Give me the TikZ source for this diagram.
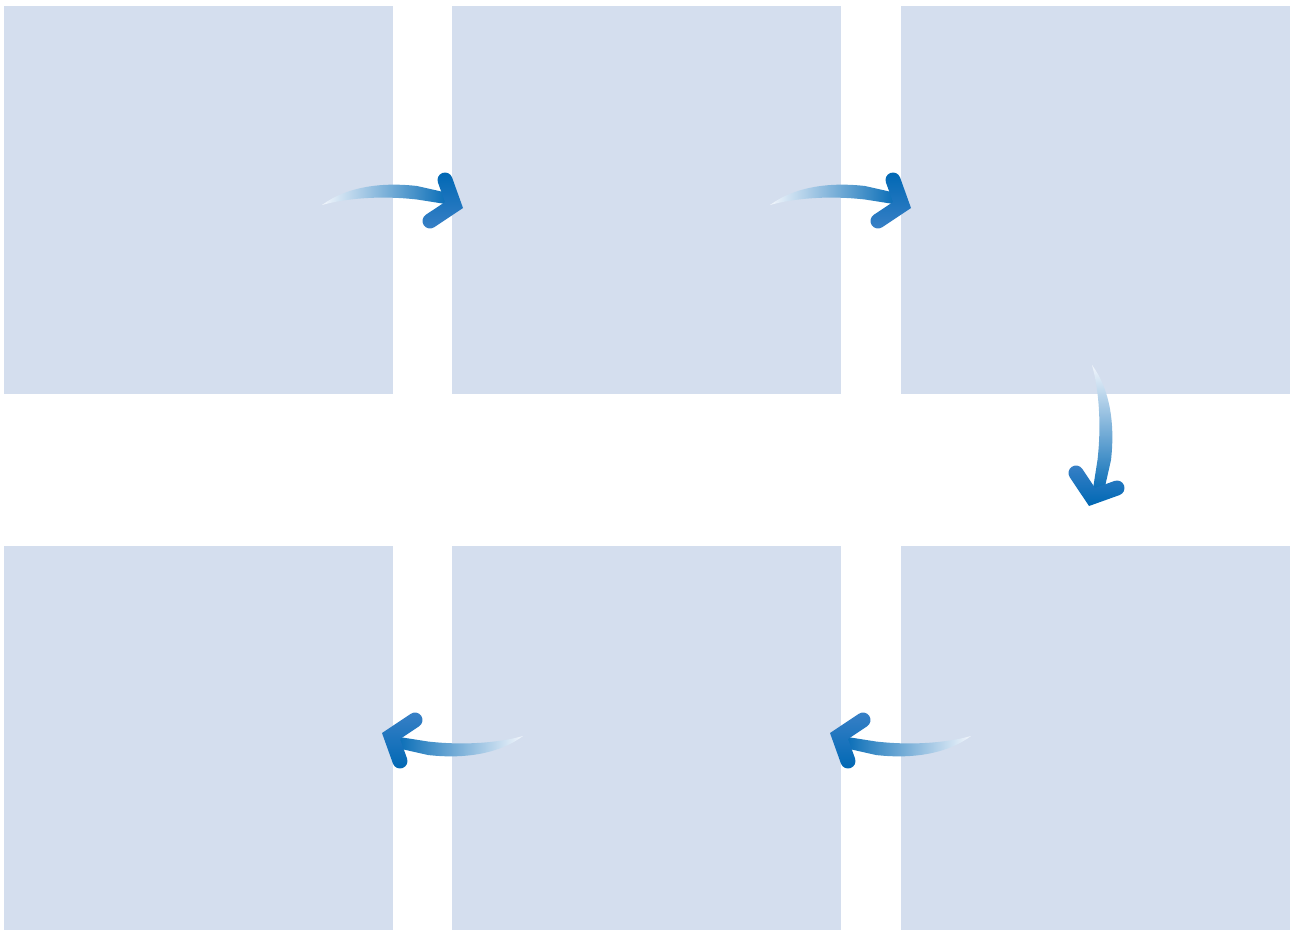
\documentclass[tikz,border=0pt]{standalone}
\usetikzlibrary{calc}
\definecolor{boxblue}{RGB}{212,222,238}
\definecolor{darkblue}{RGB}{0,104,180}
\definecolor{midblue}{RGB}{116,158,211}
\definecolor{headblue}{RGB}{56,128,198}
\definecolor{tailwhite}{RGB}{242,246,252}
\tikzset{
  box/.style={fill=boxblue, draw=none, minimum width=389pt, minimum height=388pt, inner sep=0pt, outer sep=0pt},
  lowbox/.style={box, minimum height=384pt},
  bodyshade/.style={left color=tailwhite, middle color=midblue, right color=darkblue},
  headshade/.style={top color=darkblue, bottom color=headblue},
  toright/.style={},
  todown/.style={rotate=-90,
    bodyshade/.style={top color=tailwhite, middle color=midblue, bottom color=darkblue},
    headshade/.style={top color=headblue, bottom color=darkblue}},
  toleft/.style={rotate=180,
    bodyshade/.style={right color=tailwhite, middle color=midblue, left color=darkblue},
    headshade/.style={top color=headblue, bottom color=darkblue}},
  flowarrow/.pic={
    \shade[bodyshade]
      (0,0) .. controls (25,-18.5) and (60,-23) .. (95,-19) -- (126,-12) -- (130,0)
      -- (95,-5.5) .. controls (60,-9.5) and (25,-7) .. (0,0) -- cycle;
    \shade[headshade]
      (141.0,3.0) -- (130.05,-27.54) .. controls (128.65,-31.43) and (124.35,-33.45) .. (120.46,-32.05)
      .. controls (116.57,-30.65) and (114.55,-26.35) .. (115.95,-22.46) -- (123.0,-3.0)
      -- (103.84,9.76) .. controls (100.40,12.06) and (99.46,16.72) .. (101.76,20.16)
      .. controls (104.06,23.60) and (108.72,24.54) .. (112.16,22.24) -- cycle;
  }
}
\begin{document}
\begin{tikzpicture}[x=1pt,y=-1pt]
\useasboundingbox (0,0) rectangle (1291,930);
\node[box] (b1) at (198.5,200) {};
\node[box] (b2) at (646.5,200) {};
\node[box] (b3) at (1095.5,200) {};
\node[lowbox] (b4) at (198.5,738) {};
\node[lowbox] (b5) at (646.5,738) {};
\node[lowbox] (b6) at (1095.5,738) {};
\pic[toright] at ($(b1.east)+(-71,5)$) {flowarrow};
\pic[toright] at ($(b2.east)+(-71,5)$) {flowarrow};
\pic[todown] at ($(b3.south)+(-3.5,-29)$) {flowarrow};
\pic[toleft] at ($(b6.west)+(70,-2)$) {flowarrow};
\pic[toleft] at ($(b5.west)+(71,-2)$) {flowarrow};
\end{tikzpicture}
\end{document}
